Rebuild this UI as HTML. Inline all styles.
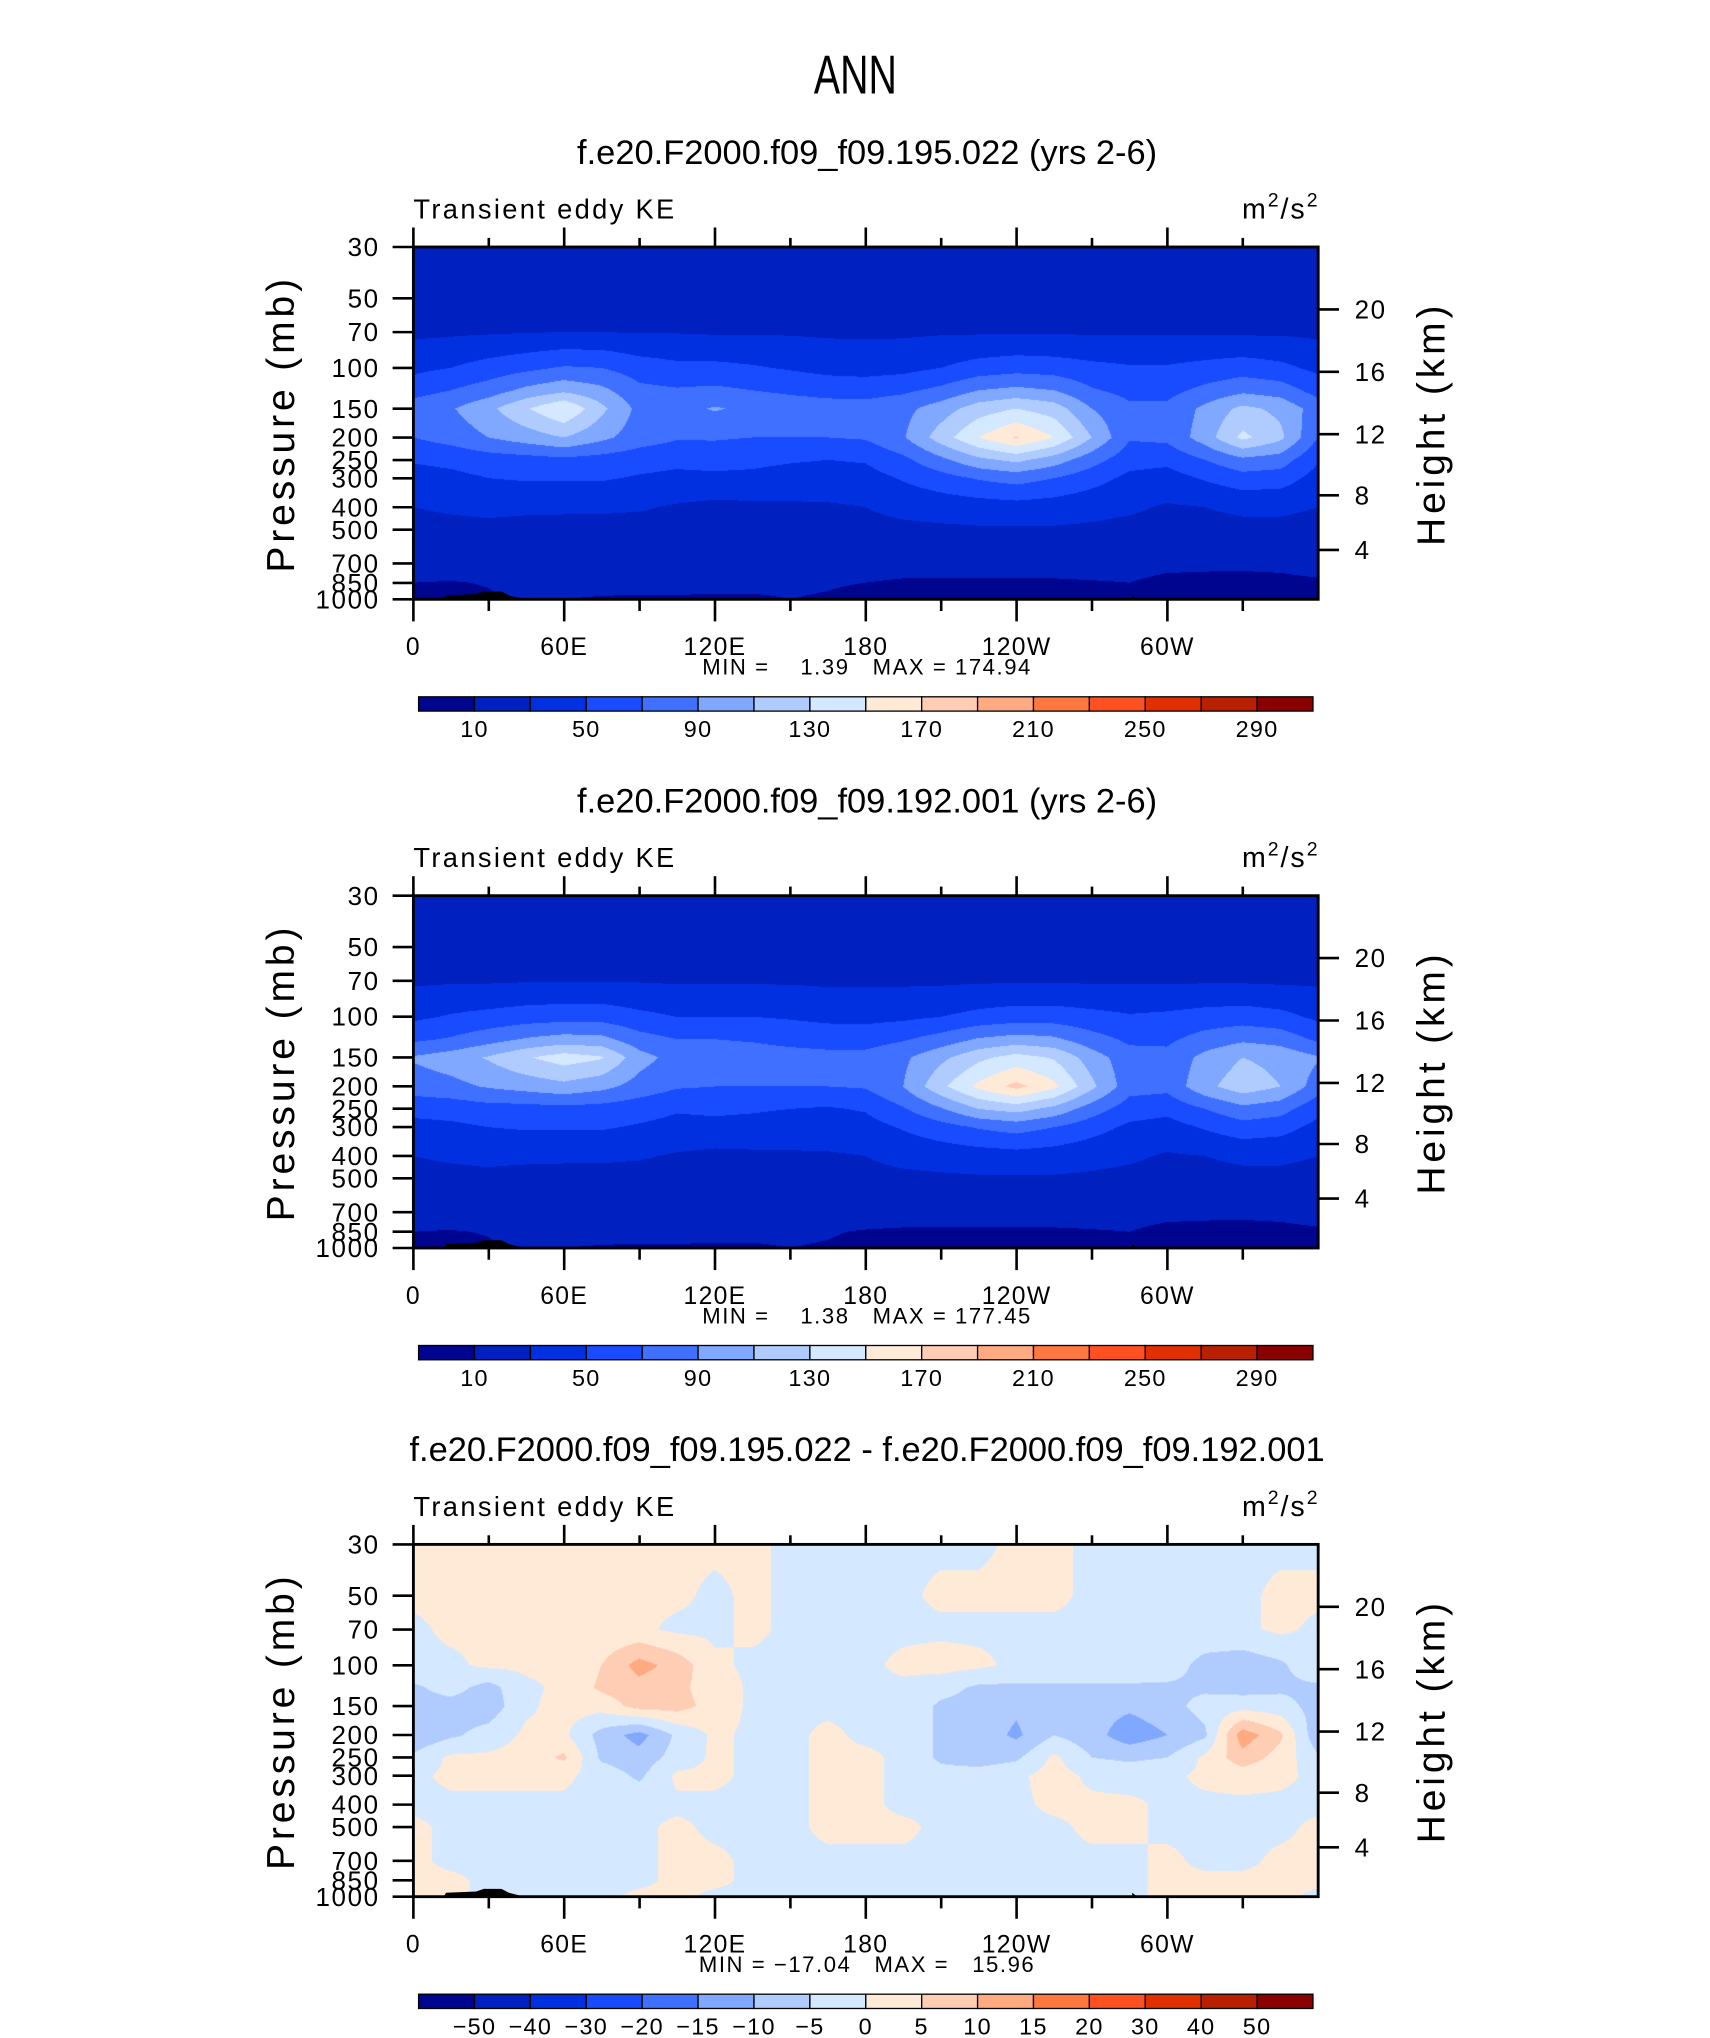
<!DOCTYPE html>
<html><head><meta charset="utf-8">
<style>
html,body{margin:0;padding:0;background:#fff;}
body{position:relative;width:1710px;height:2038px;overflow:hidden;font-family:"Liberation Sans",sans-serif;}
canvas{position:absolute;}
#ov{position:absolute;left:0;top:0;}
</style></head>
<body>
<canvas id="c0" width="905" height="352"></canvas>
<canvas id="c1" width="905" height="352"></canvas>
<canvas id="c2" width="905" height="352"></canvas>
<svg id="ov" width="1710" height="2038" viewBox="0 0 1315.4 1567.7" xmlns="http://www.w3.org/2000/svg">
<g transform="translate(658,72) scale(0.72,1)"><text x="0" y="0" text-anchor="middle" font-size="42" font-family="Liberation Sans, sans-serif" fill="#000">ANN</text></g>
</svg>
<script>
// ---- data ----
const lons = [0,15,30,45,60,75,90,105,120,135,150,165,180,195,210,225,240,255,270,285,300,315,330,345,360];
const plevs = [30,50,70,100,125,150,200,250,300,400,500,700,850,1000];
const keA = [
[20,20,20,20,20,20,20,20,20,20,20,20,20,20,20,20,20,20,20,20,20,20,20,20,20],
[22,22,22,22,22,22,22,22,22,22,22,22,22,22,22,22,22,22,22,22,22,22,22,22,22],
[26,27,28,29,30,30,29,29,28,28,28,27,27,27,28,28,28,28,28,28,28,28,27,27,26],
[45,50,58,65,72,70,60,55,55,52,48,44,42,44,50,58,62,60,55,52,52,56,60,55,45],
[62,70,80,95,105,95,75,72,74,70,66,62,62,66,75,90,95,90,72,64,64,75,85,80,62],
[80,88,105,128,150,115,84,82,92,85,82,80,78,84,100,120,130,120,90,74,74,95,115,105,80],
[70,78,90,100,110,95,80,72,72,70,70,70,72,88,120,150,172,150,110,72,75,100,135,115,70],
[52,55,60,62,65,62,58,55,58,55,52,50,52,65,85,105,115,100,78,58,55,70,85,80,52],
[42,45,50,52,52,52,48,45,45,45,42,40,42,52,62,72,78,70,58,45,42,52,62,60,42],
[30,32,33,33,33,33,32,28,25,26,27,28,30,35,38,40,42,40,36,33,28,30,33,33,30],
[25,26,27,25,24,24,22,22,22,23,23,24,25,26,27,28,28,28,27,25,24,25,26,26,25],
[20,20,20,21,20,20,19,18,18,18,18,18,18,17,17,17,17,17,17,16,14,13,12,12,13],
[10,9,11,18,15,14,13,13,12,12,12,11,10,8,8,8,8,8,9,10,6,6,7,8,9],
[6,5,8,10,10,9,9,9,9,9,10,9,7,6,6,6,6,6,6,6,5,5,5,6,6]];
const keB = [
[20,20,20,20,20,20,20,20,20,20,20,20,20,20,20,20,20,20,20,20,20,20,20,20,20],
[22,22,22,22,22,22,22,22,22,22,22,22,22,22,22,22,22,22,22,22,22,22,22,22,22],
[27,28,28,29,29,29,29,28,28,28,28,27,27,27,27,28,28,28,28,28,28,28,28,27,27],
[46,52,56,60,62,62,55,50,50,50,48,45,44,46,50,56,60,60,56,52,54,58,60,56,46],
[66,72,82,92,98,96,78,70,70,68,64,62,62,68,78,92,98,94,78,66,66,78,86,82,66],
[92,100,112,128,140,132,98,82,82,80,78,76,76,86,105,125,138,128,100,78,76,96,110,104,92],
[80,84,92,98,104,96,82,72,70,70,70,70,72,90,125,155,176,155,115,78,76,104,122,110,80],
[56,58,62,62,64,62,58,52,54,52,50,48,52,68,88,110,118,104,80,60,56,70,84,78,56],
[44,46,50,52,52,52,48,44,44,44,42,40,42,52,62,72,78,70,58,46,42,52,62,58,44],
[30,32,33,33,33,33,32,28,25,26,27,28,30,35,38,40,42,40,36,33,28,30,33,33,30],
[25,26,27,25,24,24,22,22,22,23,23,24,25,26,27,28,28,28,27,25,24,25,26,26,25],
[20,20,20,21,20,20,19,18,18,18,18,18,18,17,17,17,17,17,17,16,14,13,12,12,13],
[10,9,11,18,15,14,13,13,12,12,12,11,9,8,8,8,8,8,9,10,6,6,7,8,9],
[6,5,8,10,10,9,9,9,9,9,10,9,7,6,6,6,6,6,6,6,5,5,5,6,6]];
const keDiff = [
[1,1,1,1,1,1,1,1,1,1,-1,-1,-1,-1,-1,-1,1,1,-1,-1,-1,-1,-1,-1,-1],
[1,1,1,1,1,1,1,1,-1,1,-1,-1,-1,-1,1,1,1,1,-1,-1,-1,-1,-1,1,1],
[-1,1,1,1,1,1,1,-1,-1,1,-1,-1,-1,-1,-1,-1,-1,-1,-1,-1,-1,-1,-1,1,-1],
[-1,-1,1,1,1,5,12,8,1,-1,-1,-1,-1,1,2,1,-1,-1,-1,-1,-2,-7,-8,-6,-1],
[-6,-3,-7,-1,1,6,8,6,3,-1,-1,-1,-1,-1,-3,-6,-6,-6,-6,-6,-6,-6,-7,-6,-6],
[-7,-7,-8,-1,2,2,7,7,3,-1,-1,-1,-1,-1,-6,-7,-9,-7,-8,-9,-7,-3,-2,-3,-7],
[-9,-6,-3,1,1,-7,-12,-4,1,-1,-1,1,-1,-1,-6,-7,-11,-5,-8,-13,-10,-6,13,6,-9],
[-4,1,1,2,6,-6,-8,-3,1,-1,-1,1,1,-1,-6,-8,-6,1,-5,-6,-5,1,8,3,-4],
[-1,1,1,1,1,-2,-6,1,1,-1,-1,1,1,-1,-3,-2,-1,2,-1,-2,-1,1,2,1,-1],
[-1,-1,-1,-1,-1,-1,-1,-1,-1,-1,-1,1,1,-1,-1,-1,-1,1,1,1,-1,-1,-1,-1,-1],
[1,-1,-1,-1,-1,-1,-1,1,-1,-1,-1,1,1,1,-1,-1,-1,-1,1,1,-1,-1,-1,-1,1],
[1,-1,-1,-1,-1,-1,-1,1,1,-1,-1,-1,-1,-1,-1,-1,-1,-1,-1,-1,1,-1,-1,1,1],
[1,1,-1,-1,-1,-1,-1,1,1,-1,-1,-1,-1,-1,-1,-1,-1,-1,-1,-1,1,1,1,1,1],
[1,1,-1,-1,-1,-1,1,1,-1,-1,-1,-1,-1,-1,-1,-1,-1,-1,-1,-1,1,1,1,1,-1]];
const levelsKE = [10,30,50,70,90,110,130,150,170,190,210,230,250,270,290];
const levelsDiff = [-50,-40,-30,-20,-15,-10,-5,0,5,10,15,20,30,40,50];
const labelsKE = ["10","50","90","130","170","210","250","290"];
const labelsDiff = ["−50","−40","−30","−20","−15","−10","−5","0","5","10","15","20","30","40","50"];
const xTickLabels = ["0","60E","120E","180","120W","60W"];
const pTicks = [30,50,70,100,150,200,250,300,400,500,700,850,1000];
const hTicks = [20,16,12,8,4];
const titles = ["f.e20.F2000.f09_f09.195.022 (yrs 2-6)","f.e20.F2000.f09_f09.192.001 (yrs 2-6)","f.e20.F2000.f09_f09.195.022 - f.e20.F2000.f09_f09.192.001"];
const minVals = ["1.39","1.38","−17.04"];
const maxVals = ["174.94","177.45","15.96"];
const palette = ["#00058f","#0020c0","#0030e0","#1a4cff","#4070ff","#80a8ff","#b0ccff","#d4e8ff","#ffead8","#ffcdb4","#ffaa80","#ff7840","#ff5020","#e03000","#b82000","#8a0000"];

// ---- layout (display units, scaled by S) ----
const S = 1710/1315.4;
const X0=318, X1=1014, PH=271;
const offs=[0,499,998];
const grids=[keA,keB,keDiff];
const lvls=[levelsKE,levelsKE,levelsDiff];
const lnT=Math.log(30), lnB=Math.log(1000);
function xOfLon(l){return X0+(l/360)*(X1-X0);}
function yOfP(p,top){return top+(Math.log(p)-lnT)/(lnB-lnT)*PH;}
const svg=document.getElementById('ov');
const NS="http://www.w3.org/2000/svg";
function el(tag,attrs,parent){const e=document.createElementNS(NS,tag);for(const k in attrs)e.setAttribute(k,attrs[k]);(parent||svg).appendChild(e);return e;}
function txt(s,x,y,size,anchor,parent,ls){const t=el('text',{x:x,y:y,'font-size':size,'text-anchor':anchor||'start','font-family':'Liberation Sans, sans-serif',fill:'#000'},parent);if(ls)t.setAttribute('letter-spacing',ls);t.textContent=s;return t;}
function hexRGB(h){return [parseInt(h.substr(1,2),16),parseInt(h.substr(3,2),16),parseInt(h.substr(5,2),16)];}
const pal=palette.map(hexRGB);
const lnP=plevs.map(p=>Math.log(p));

function sample(g,lon,lnp){
  let j=Math.min(Math.floor(lon/15),lons.length-2); let fx=(lon-lons[j])/15;
  let i=0; while(i<lnP.length-2 && lnp>lnP[i+1]) i++;
  let fy=(lnp-lnP[i])/(lnP[i+1]-lnP[i]); fy=Math.max(0,Math.min(1,fy));
  const a=g[i][j],b=g[i][j+1],c=g[i+1][j],d=g[i+1][j+1];
  return (a*(1-fx)+b*fx)*(1-fy)+(c*(1-fx)+d*fx)*fy;
}
for(let k=0;k<3;k++){
  const cv=document.getElementById('c'+k);
  cv.style.left=(X0*S)+'px'; cv.style.top=((190+offs[k])*S)+'px';
  cv.style.width=((X1-X0)*S)+'px'; cv.style.height=(PH*S)+'px';
  const ctx=cv.getContext('2d'); const W=cv.width,H=cv.height;
  const img=ctx.createImageData(W,H); const g=grids[k], L=lvls[k];
  for(let y=0;y<H;y++){const lnp=lnT+(y+0.5)/H*(lnB-lnT);
    for(let x=0;x<W;x++){const v=sample(g,(x+0.5)/W*360,lnp);
      let idx=0; while(idx<L.length && v>=L[idx]) idx++;
      const c=pal[idx]; const o=(y*W+x)*4; img.data[o]=c[0];img.data[o+1]=c[1];img.data[o+2]=c[2];img.data[o+3]=255;}}
  ctx.putImageData(img,0,0);
}

for(let k=0;k<3;k++){
  const o=offs[k], top=190+o, bot=top+PH;
  const gp=el('g',{});
  
  
  const t=txt(titles[k],667,126+o,26.5,'middle',gp);
  
  
  const l=txt('Transient eddy KE',318,168+o,21,'start',gp,'1.8');
  
  
  const u=el('text',{x:1015,y:168+o,'font-size':22,'text-anchor':'end','font-family':'Liberation Sans, sans-serif','letter-spacing':'1.5'},gp);
  u.innerHTML='m<tspan dy="-9" font-size="15">2</tspan><tspan dy="9">/s</tspan><tspan dy="-9" font-size="15">2</tspan>';
  
  
  const tp=el('polygon',{points:[[xOfLon(12),bot],[xOfLon(13),bot-3],[xOfLon(25),bot-4],[xOfLon(28),bot-6],[xOfLon(35),bot-6],[xOfLon(38),bot-3],[xOfLon(44),bot],[xOfLon(286),bot],[xOfLon(286),bot-3],[xOfLon(288),bot]].map(p=>p.join(',')).join(' '),fill:'#000'},gp);
  
  
  const fr=el('rect',{x:X0,y:top,width:X1-X0,height:PH,fill:'none',stroke:'#000','stroke-width':2.2},gp);
  
  
  for(let d=0;d<=330;d+=30){const x=xOfLon(d);const major=d%60===0;
    el('line',{x1:x,x2:x,y1:top,y2:top-(major?15:7),stroke:'#000','stroke-width':2},gp);
    el('line',{x1:x,x2:x,y1:bot,y2:bot+(major?17:9),stroke:'#000','stroke-width':2},gp);
    if(major){const xl=txt(xTickLabels[d/60],x,504+o,19,'middle',gp,'1');
      
      }}
  pTicks.forEach(p=>{const y=yOfP(p,top);
    el('line',{x1:X0,x2:X0-16,y1:y,y2:y,stroke:'#000','stroke-width':2},gp);
    const pl=txt(String(p),292,y+7,20,'end',gp,'1.2');
    
    });
  hTicks.forEach((h,i)=>{const y=[238,286,334,381,423][i]+o;
    el('line',{x1:X1,x2:X1+16,y1:y,y2:y,stroke:'#000','stroke-width':2},gp);
    const hl=txt(String(h),1042,y+7,20,'start',gp,'1.2');
    
    });
  const ya=txt('Pressure  (mb)',0,0,30,'middle',gp,'3');ya.setAttribute('transform','translate(226,'+(326+o)+') rotate(-90)');
  
  
  const yb=txt('Height  (km)',0,0,30,'middle',gp,'3');yb.setAttribute('transform','translate(1111,'+(326+o)+') rotate(-90)');
  
  
  const mm=txt('MIN = '+(minVals[k].length<6?'   ':'')+minVals[k]+'   MAX = '+(maxVals[k].length<6?'  ':'')+maxVals[k],667,519+o,17,'middle',gp,'1.2');
  mm.setAttribute('xml:space','preserve');mm.style.whiteSpace='pre';
  
  
  const cb=el('g',{},gp);
  
  
  const bw=43, cx0=322, cy=536+o;
  palette.forEach((c,i)=>{const r=el('rect',{x:cx0+i*bw,y:cy,width:bw,height:11,fill:c,stroke:'#000','stroke-width':1},cb);
    
    });
  if(k<2){labelsKE.forEach((s,i)=>{const cl=txt(s,cx0+(1+2*i)*bw,567+o,18,'middle',cb,'1');
      
      });}
  else{labelsDiff.forEach((s,i)=>{const cl=txt(s,cx0+(1+i)*bw,567+o,18,'middle',cb,'1');
      
      });}
}
</script>
</body></html>
